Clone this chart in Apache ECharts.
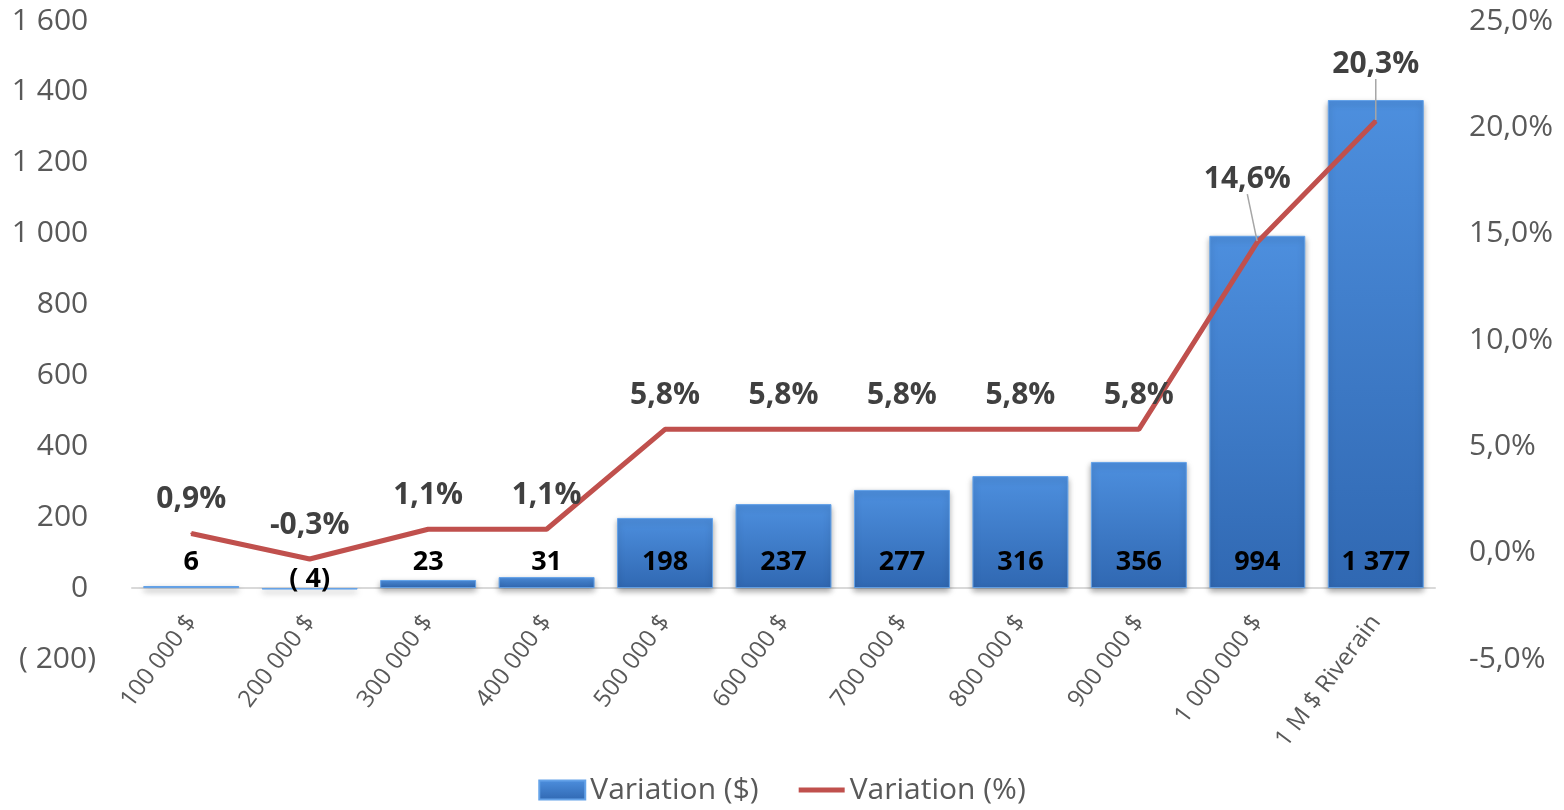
<!DOCTYPE html>
<html>
<head>
<meta charset="utf-8">
<script src="https://cdn.jsdelivr.net/npm/echarts@6/dist/echarts.min.js"></script>
<style>
html,body{margin:0;padding:0;background:#fff;}
#chart{width:1564px;height:810px;}
</style>
</head>
<body>
<div id="chart"></div>
<script>
var categories = ['100 000 $','200 000 $','300 000 $','400 000 $','500 000 $','600 000 $','700 000 $','800 000 $','900 000 $','1 000 000 $','1 M $ Riverain'];
var variationDollar = [6, -4, 23, 31, 198, 237, 277, 316, 356, 994, 1377];
var variationPct = [0.9, -0.3, 1.1, 1.1, 5.8, 5.8, 5.8, 5.8, 5.8, 14.6, 20.3];
var seriesNames = ['Variation ($)', 'Variation (%)'];

function fmtThousands(v){
  var s = String(Math.abs(Math.round(v)));
  s = s.replace(/\B(?=(\d{3})+(?!\d))/g, ' ');
  return v < 0 ? '( ' + s + ')' : s;
}
function fmtPct(v, d){
  return v.toFixed(d).replace('.', ',') + '%';
}

var FONT = 'Open Sans';
var chart = echarts.init(document.getElementById('chart'));

var barData = variationDollar.map(function(v){
  if (v < 0) {
    return {value: v, label: {offset: [0, 15]}};
  }
  return v;
});

var leaderOffsets = {9: {dx: -10, dy: -29}, 10: {dx: 0, dy: -23}};
var lineData = variationPct.map(function(v, i){
  if (leaderOffsets[i]) {
    return {value: v, labelLine: {show: true, lineStyle: {color: '#a6a6a6', width: 1.5}}};
  }
  return v;
});

var option = {
  animation: false,
  textStyle: {fontFamily: FONT},
  grid: {left: 132, right: 129, top: 21, bottom: 151, containLabel: false},
  legend: {
    bottom: 0,
    left: 'center',
    itemWidth: 46,
    itemHeight: 19,
    itemGap: 40,
    symbolKeepAspect: true,
    textStyle: {fontFamily: FONT, fontSize: 30, color: '#595959'},
    data: [
      {name: seriesNames[0], icon: 'rect'},
      {name: seriesNames[1], icon: 'path://M0,0 L46,0 L46,5 L0,5 Z'}
    ]
  },
  xAxis: {
    type: 'category',
    data: categories,
    axisLine: {show: true, onZero: true, onZeroAxisIndex: 0, lineStyle: {color: '#d9d9d9', width: 2}},
    axisTick: {show: false},
    axisLabel: {
      interval: 0,
      rotate: 53,
      margin: -41,
      fontFamily: FONT,
      fontSize: 24,
      color: '#595959'
    }
  },
  yAxis: [
    {
      type: 'value',
      min: -200, max: 1600, interval: 200,
      splitLine: {show: false},
      axisLine: {show: false},
      axisTick: {show: false},
      axisLabel: {
        margin: 36,
        fontFamily: FONT, fontSize: 30, color: '#595959',
        formatter: function(v){ return fmtThousands(v) + (v >= 0 ? ' ' : ''); }
      }
    },
    {
      type: 'value',
      min: -5, max: 25, interval: 5,
      splitLine: {show: false},
      axisLine: {show: false},
      axisTick: {show: false},
      axisLabel: {
        margin: 34,
        fontFamily: FONT, fontSize: 30, color: '#595959',
        formatter: function(v){ return fmtPct(v, 1); }
      }
    }
  ],
  series: [
    {
      name: seriesNames[0],
      type: 'bar',
      yAxisIndex: 0,
      barCategoryGap: '19%',
      data: barData,
      itemStyle: {
        color: new echarts.graphic.LinearGradient(0, 0, 0, 1, [
          {offset: 0, color: '#4d8fde'},
          {offset: 1, color: '#3068b2'}
        ]),
        borderColor: '#64a2e8',
        borderWidth: 1,
        shadowBlur: 6,
        shadowColor: 'rgba(0,0,0,0.35)',
        shadowOffsetY: 3
      },
      label: {
        show: true,
        position: 'insideBottom',
        distance: 12,
        fontFamily: FONT,
        fontWeight: 'bold',
        fontSize: 27,
        color: '#000000',
        formatter: function(p){ return fmtThousands(p.value); }
      }
    },
    {
      name: seriesNames[1],
      type: 'line',
      yAxisIndex: 1,
      data: lineData,
      symbol: 'circle',
      symbolSize: 2,
      lineStyle: {color: '#c0504d', width: 5},
      itemStyle: {color: '#c0504d'},
      z: 5,
      label: {
        show: true,
        position: 'top',
        distance: 18,
        fontFamily: FONT,
        fontWeight: 'bold',
        fontSize: 30,
        color: '#404040',
        formatter: function(p){ return fmtPct(p.value, 1); }
      },
      labelLine: {show: false},
      labelLayout: function(params){
        var o = leaderOffsets[params.dataIndex];
        if (o) return {dx: o.dx, dy: o.dy};
        return {};
      }
    }
  ]
};
chart.setOption(option);
</script>
</body>
</html>
